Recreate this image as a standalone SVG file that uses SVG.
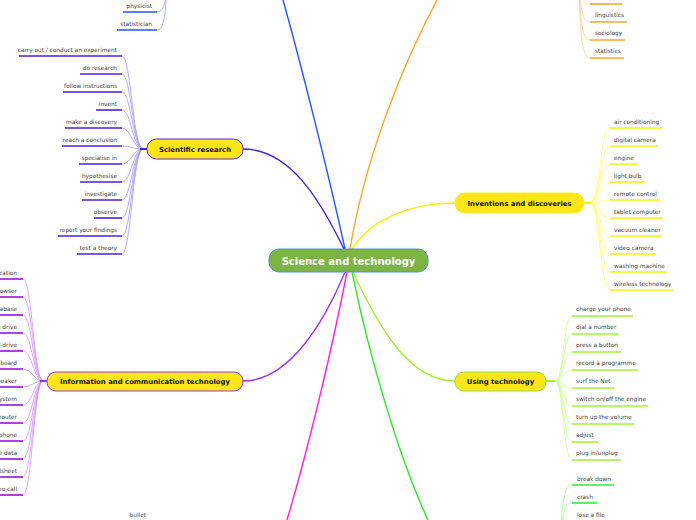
<svg xmlns="http://www.w3.org/2000/svg" width="696" height="520" viewBox="0 0 696 520">
<style>
.lf{font-family:"DejaVu Sans",Verdana,sans-serif;font-size:5.8px;fill:#444}
.e{text-anchor:end}
.nt{font-family:"DejaVu Sans",Verdana,sans-serif;font-size:6.9px;font-weight:bold;fill:#111;text-anchor:middle}
.ct{font-family:"DejaVu Sans",Verdana,sans-serif;font-size:10px;font-weight:bold;fill:#fff;text-anchor:middle}
.ul{stroke-width:1.6;fill:none}
.lc{stroke-width:0.8;fill:none}
.br{stroke-width:1.4;fill:none}
.node{fill:#ffe619;stroke-width:1}
</style>
<rect width="696" height="520" fill="#fff"/>
<g id="connectors">
<!-- main branches -->
<path class="br" stroke="#2255ff" d="M345,249 C330,180 300,60 283,0"/>
<path class="br" stroke="#ffa526" d="M350,249 C365,160 400,70 437,0"/>
<path class="br" stroke="#4a20e0" d="M243,149 C290,149 320,200 344,249"/>
<path class="br" stroke="#f2f200" d="M352,249 C370,220 410,203 455,203"/>
<path class="br" stroke="#a030f0" d="M345,272 C325,320 290,381 243,381"/>
<path class="br" stroke="#ff20e0" d="M347,272 C330,360 305,460 287,520"/>
<path class="br" stroke="#30e830" d="M352,272 C370,360 400,460 428,520"/>
<path class="br" stroke="#a0f030" d="M353,272 C380,330 410,381 455,381"/>
<!-- top-left blue leaves -->
<g stroke="#88a8ff" class="lc">
<path d="M157,12 C163,12 165,5 167,-10"/>
<path d="M157,30 C163,30 165,20 167,-10"/>
</g>
<!-- top-right orange leaves -->
<g stroke="#ffd08a" class="lc">
<path d="M590,4 C583,4 580,-5 579,-20"/>
<path d="M590,22 C583,22 580,10 579,-20"/>
<path d="M590,40 C583,40 580,25 579,-20"/>
<path d="M590,58 C583,58 580,40 579,-20"/>
</g>
<!-- scientific research leaves -->
<g stroke="#a696ff" class="lc">
<path d="M122,56 C131,56 133,149 143,149"/>
<path d="M122,74 C131,74 133,149 143,149"/>
<path d="M122,92 C131,92 133,149 143,149"/>
<path d="M122,110 C131,110 133,149 143,149"/>
<path d="M122,128 C131,128 133,149 143,149"/>
<path d="M122,146 C131,146 133,149 143,149"/>
<path d="M122,164 C131,164 133,149 143,149"/>
<path d="M122,182 C131,182 133,149 143,149"/>
<path d="M122,200 C131,200 133,149 143,149"/>
<path d="M122,218 C131,218 133,149 143,149"/>
<path d="M122,236 C131,236 133,149 143,149"/>
<path d="M122,254 C131,254 133,149 143,149"/>
</g>
<path stroke="#4a20e0" stroke-width="2" d="M140,149 H147"/>
<!-- ICT leaves -->
<g stroke="#d890ff" class="lc">
<path d="M23,279 C32,279 34,381 43,381"/>
<path d="M23,297 C32,297 34,381 43,381"/>
<path d="M23,315 C32,315 34,381 43,381"/>
<path d="M23,333 C32,333 34,381 43,381"/>
<path d="M23,351 C32,351 34,381 43,381"/>
<path d="M23,369 C32,369 34,381 43,381"/>
<path d="M23,387 C32,387 34,381 43,381"/>
<path d="M23,405 C32,405 34,381 43,381"/>
<path d="M23,423 C32,423 34,381 43,381"/>
<path d="M23,441 C32,441 34,381 43,381"/>
<path d="M23,459 C32,459 34,381 43,381"/>
<path d="M23,477 C32,477 34,381 43,381"/>
<path d="M23,495 C32,495 34,381 43,381"/>
</g>
<path stroke="#a030f0" stroke-width="2" d="M40,381 H47"/>
<!-- inventions leaves -->
<g stroke="#ffff70" class="lc">
<path d="M590,203 C600,203 600,128 610,128"/>
<path d="M590,203 C600,203 600,146 610,146"/>
<path d="M590,203 C600,203 600,164 610,164"/>
<path d="M590,203 C600,203 600,182 610,182"/>
<path d="M590,203 C600,203 600,200 610,200"/>
<path d="M590,203 C600,203 600,218 610,218"/>
<path d="M590,203 C600,203 600,236 610,236"/>
<path d="M590,203 C600,203 600,254 610,254"/>
<path d="M590,203 C600,203 600,272 610,272"/>
<path d="M590,203 C600,203 600,290 610,290"/>
</g>
<path stroke="#f2f200" stroke-width="2" d="M584,203 H591"/>
<!-- using technology leaves -->
<g stroke="#c8ff90" class="lc">
<path d="M555,381 C564,381 563,316 572,316"/>
<path d="M555,381 C564,381 563,334 572,334"/>
<path d="M555,381 C564,381 563,352 572,352"/>
<path d="M555,381 C564,381 563,370 572,370"/>
<path d="M555,381 C564,381 563,388 572,388"/>
<path d="M555,381 C564,381 563,406 572,406"/>
<path d="M555,381 C564,381 563,424 572,424"/>
<path d="M555,381 C564,381 563,442 572,442"/>
<path d="M555,381 C564,381 563,460 572,460"/>
</g>
<path stroke="#a0f030" stroke-width="2" d="M546,381 H555"/>
<!-- bottom green leaves -->
<g stroke="#a0ff90" class="lc">
<path d="M572,485 C565,485 562,500 560,540"/>
<path d="M572,503 C565,503 562,515 560,540"/>
</g>
</g>
<g id="leaves-physics">
<line class="ul" stroke="#2255ff" x1="123" y1="12" x2="157" y2="12"/>
<text class="lf e" x="152" y="8">physicist</text>
<line class="ul" stroke="#2255ff" x1="117" y1="30" x2="157" y2="30"/>
<text class="lf e" x="152" y="26">statistician</text>
</g>
<g id="leaves-social">
<line class="ul" stroke="#ffa526" x1="590" y1="4" x2="622" y2="4"/>
<text class="lf" x="595" y="-1">biology</text>
<line class="ul" stroke="#ffa526" x1="590" y1="22" x2="627" y2="22"/>
<text class="lf" x="595" y="17">linguistics</text>
<line class="ul" stroke="#ffa526" x1="590" y1="40" x2="625" y2="40"/>
<text class="lf" x="595" y="35">sociology</text>
<line class="ul" stroke="#ffa526" x1="590" y1="58" x2="624" y2="58"/>
<text class="lf" x="595" y="53">statistics</text>
</g>
<g id="scientific-research">
<rect class="node" x="147" y="139" width="96" height="20" rx="9.5" stroke="#5a28e0"/>
<text class="nt" x="195" y="151.5">Scientific research</text>
<g stroke="#4b1ee6">
<line class="ul" x1="19" y1="56" x2="122" y2="56"/>
<line class="ul" x1="80" y1="74" x2="122" y2="74"/>
<line class="ul" x1="63" y1="92" x2="122" y2="92"/>
<line class="ul" x1="96" y1="110" x2="122" y2="110"/>
<line class="ul" x1="65" y1="128" x2="122" y2="128"/>
<line class="ul" x1="62" y1="146" x2="122" y2="146"/>
<line class="ul" x1="79" y1="164" x2="122" y2="164"/>
<line class="ul" x1="80" y1="182" x2="122" y2="182"/>
<line class="ul" x1="82" y1="200" x2="122" y2="200"/>
<line class="ul" x1="94" y1="218" x2="122" y2="218"/>
<line class="ul" x1="58" y1="236" x2="122" y2="236"/>
<line class="ul" x1="77" y1="254" x2="122" y2="254"/>
</g>
<text class="lf e" x="117" y="52">carry out / conduct an experiment</text>
<text class="lf e" x="117" y="70">do research</text>
<text class="lf e" x="117" y="88">follow instructions</text>
<text class="lf e" x="117" y="106">invent</text>
<text class="lf e" x="117" y="124">make a discovery</text>
<text class="lf e" x="117" y="142">reach a conclusion</text>
<text class="lf e" x="117" y="160">specialise in</text>
<text class="lf e" x="117" y="178">hypothesise</text>
<text class="lf e" x="117" y="196">investigate</text>
<text class="lf e" x="117" y="214">observe</text>
<text class="lf e" x="117" y="232">report your findings</text>
<text class="lf e" x="117" y="250">test a theory</text>
</g>
<g id="ict">
<rect class="node" x="47" y="372" width="196" height="19" rx="9" stroke="#a030f0"/>
<text class="nt" x="145" y="384">Information and communication technology</text>
<g stroke="#9a10e0">
<line class="ul" x1="0" y1="279" x2="23" y2="279"/>
<line class="ul" x1="0" y1="297" x2="23" y2="297"/>
<line class="ul" x1="0" y1="315" x2="23" y2="315"/>
<line class="ul" x1="0" y1="333" x2="23" y2="333"/>
<line class="ul" x1="0" y1="351" x2="23" y2="351"/>
<line class="ul" x1="0" y1="369" x2="23" y2="369"/>
<line class="ul" x1="0" y1="387" x2="23" y2="387"/>
<line class="ul" x1="0" y1="405" x2="23" y2="405"/>
<line class="ul" x1="0" y1="423" x2="23" y2="423"/>
<line class="ul" x1="0" y1="441" x2="23" y2="441"/>
<line class="ul" x1="0" y1="459" x2="23" y2="459"/>
<line class="ul" x1="0" y1="477" x2="23" y2="477"/>
<line class="ul" x1="0" y1="495" x2="23" y2="495"/>
</g>
<text class="lf e" x="17" y="275">application</text>
<text class="lf e" x="17" y="293">browser</text>
<text class="lf e" x="17" y="311">database</text>
<text class="lf e" x="17" y="329">pen drive</text>
<text class="lf e" x="17" y="347">hard drive</text>
<text class="lf e" x="17" y="365">keyboard</text>
<text class="lf e" x="17" y="383">speaker</text>
<text class="lf e" x="17" y="401">operating system</text>
<text class="lf e" x="17" y="419">router</text>
<text class="lf e" x="17" y="437">smartphone</text>
<text class="lf e" x="17" y="455">store data</text>
<text class="lf e" x="17" y="473">spreadsheet</text>
<text class="lf e" x="17" y="491">video call</text>
</g>
<g id="inventions">
<rect class="node" x="455" y="193" width="129" height="20" rx="9.5" stroke="#f0f020"/>
<text class="nt" x="519.5" y="205.5">Inventions and discoveries</text>
<g stroke="#f5f500">
<line class="ul" x1="610" y1="128" x2="662" y2="128"/>
<line class="ul" x1="610" y1="146" x2="658" y2="146"/>
<line class="ul" x1="610" y1="164" x2="637" y2="164"/>
<line class="ul" x1="610" y1="182" x2="645" y2="182"/>
<line class="ul" x1="610" y1="200" x2="660" y2="200"/>
<line class="ul" x1="610" y1="218" x2="663" y2="218"/>
<line class="ul" x1="610" y1="236" x2="662" y2="236"/>
<line class="ul" x1="610" y1="254" x2="656" y2="254"/>
<line class="ul" x1="610" y1="272" x2="667" y2="272"/>
<line class="ul" x1="610" y1="290" x2="673" y2="290"/>
</g>
<text class="lf" x="614" y="124">air conditioning</text>
<text class="lf" x="614" y="142">digital camera</text>
<text class="lf" x="614" y="160">engine</text>
<text class="lf" x="614" y="178">light bulb</text>
<text class="lf" x="614" y="196">remote control</text>
<text class="lf" x="614" y="214">tablet computer</text>
<text class="lf" x="614" y="232">vacuum cleaner</text>
<text class="lf" x="614" y="250">video camera</text>
<text class="lf" x="614" y="268">washing machine</text>
<text class="lf" x="614" y="286">wireless technology</text>
</g>
<g id="using-technology">
<rect class="node" x="455" y="372" width="91" height="19" rx="9" stroke="#90e040"/>
<text class="nt" x="500.5" y="384">Using technology</text>
<g stroke="#a0f530">
<line class="ul" x1="572" y1="316" x2="633" y2="316"/>
<line class="ul" x1="572" y1="334" x2="619" y2="334"/>
<line class="ul" x1="572" y1="352" x2="621" y2="352"/>
<line class="ul" x1="572" y1="370" x2="638" y2="370"/>
<line class="ul" x1="572" y1="388" x2="614" y2="388"/>
<line class="ul" x1="572" y1="406" x2="648" y2="406"/>
<line class="ul" x1="572" y1="424" x2="634" y2="424"/>
<line class="ul" x1="572" y1="442" x2="598" y2="442"/>
<line class="ul" x1="572" y1="460" x2="621" y2="460"/>
</g>
<text class="lf" x="576" y="311">charge your phone</text>
<text class="lf" x="576" y="329">dial a number</text>
<text class="lf" x="576" y="347">press a button</text>
<text class="lf" x="576" y="365">record a programme</text>
<text class="lf" x="576" y="383">surf the Net</text>
<text class="lf" x="576" y="401">switch on/off the engine</text>
<text class="lf" x="576" y="419">turn up the volume</text>
<text class="lf" x="576" y="437">adjust</text>
<text class="lf" x="576" y="455">plug in/unplug</text>
</g>
<g id="leaves-problems">
<line class="ul" stroke="#30ee30" x1="572" y1="485" x2="614" y2="485"/>
<text class="lf" x="577" y="481">break down</text>
<line class="ul" stroke="#30ee30" x1="572" y1="503" x2="597" y2="503"/>
<text class="lf" x="577" y="499">crash</text>
<text class="lf" x="577" y="517">lose a file</text>
</g>
<g id="leaves-weapons">
<text class="lf e" x="146" y="517">bullet</text>
</g>
<g id="center">
<rect x="269" y="249" width="159" height="23" rx="10" fill="#7cb544" stroke="#4f93cf" stroke-width="1"/>
<text class="ct" x="348.5" y="264.5">Science and technology</text>
</g>
</svg>
